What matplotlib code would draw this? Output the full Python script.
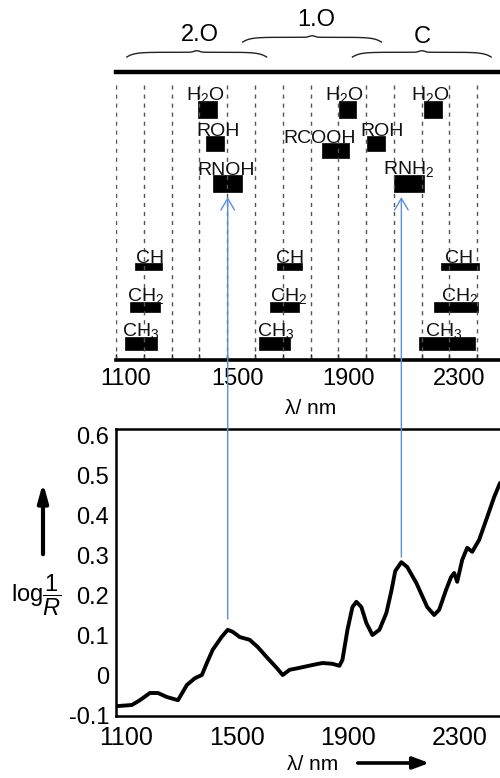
import numpy as np
import matplotlib
matplotlib.use('Agg')
import matplotlib.pyplot as plt
from matplotlib.patches import Rectangle, ConnectionPatch, FancyArrowPatch
import matplotlib.transforms as mtransforms

plt.rcParams['font.family'] = ['Liberation Sans', 'DejaVu Sans']
plt.rcParams['mathtext.fontset'] = 'custom'
plt.rcParams['mathtext.rm'] = 'Liberation Sans'
plt.rcParams['mathtext.it'] = 'Liberation Sans:italic'
plt.rcParams['mathtext.bf'] = 'Liberation Sans:bold'

############ data
# NIR spectrum
wavelength = [1100, 1157, 1186, 1222, 1251, 1283, 1323, 1355, 1384, 1409, 1427, 1448,
              1480, 1502, 1520, 1545, 1581, 1610, 1642, 1678, 1700, 1725, 1761, 1807,
              1843, 1879, 1904, 1915, 1933, 1951, 1965, 1983, 2001, 2023, 2048, 2073,
              2091, 2105, 2127, 2148, 2181, 2192, 2220, 2245, 2263, 2288, 2306, 2317,
              2328, 2346, 2364, 2382, 2407, 2436, 2461, 2482]
log_inv_r = [-0.078, -0.075, -0.063, -0.045, -0.045, -0.055, -0.063, -0.025, -0.008, 0.0,
             0.03, 0.063, 0.095, 0.113, 0.108, 0.095, 0.088, 0.07, 0.045, 0.018, 0.0,
             0.013, 0.018, 0.025, 0.03, 0.028, 0.023, 0.038, 0.113, 0.17, 0.183, 0.17,
             0.13, 0.1, 0.113, 0.155, 0.21, 0.26, 0.282, 0.27, 0.23, 0.213, 0.17, 0.15,
             0.163, 0.213, 0.245, 0.255, 0.233, 0.288, 0.318, 0.308, 0.338, 0.395,
             0.445, 0.48]

# absorption bands (nm)
band_names = ['H$_2$O', 'ROH', 'RNOH', 'H$_2$O', 'RCOOH', 'ROH', 'H$_2$O', 'RNH$_2$',
              'CH', 'CH$_2$', 'CH$_3$', 'CH', 'CH$_2$', 'CH$_3$', 'CH', 'CH$_2$', 'CH$_3$']
band_start = [1394, 1423, 1448, 1904, 1843, 2005, 2209, 2102,
              1168, 1150, 1132, 1678, 1653, 1613, 2270, 2245, 2191]
band_end = [1463, 1488, 1552, 1965, 1940, 2069, 2274, 2209,
            1265, 1258, 1247, 1771, 1757, 1728, 2407, 2403, 2392]
label_x = [1420, 1466, 1498, 1922, 1832, 2058, 2231, 2155,
           1222, 1208, 1190, 1725, 1721, 1674, 2335, 2335, 2278]
band_row = ['w', 'oh', 'n', 'w', 'cooh', 'oh', 'w', 'n',
            'ch', 'ch2', 'ch3', 'ch', 'ch2', 'ch3', 'ch', 'ch2', 'ch3']
# vertical extent of each row in the upper panel (0..100)
rows = {'w': (84, 90), 'oh': (72.5, 77.8), 'cooh': (70.1, 75.3), 'n': (58.5, 64.2),
        'ch': (31.3, 33.7), 'ch2': (16.7, 20.1), 'ch3': (3.5, 8.0)}

# overtone regions
region_names = ['2.O', '1.O', 'C']
region_start = [1139, 1556, 1951]
region_end = [1642, 2055, 2450]
region_level = [105.2, 110.4, 105.2]
region_text_x = [1402, 1822, 2202]
region_text_y = [113, 118, 112]

# assignments linked with arrows
link_x = [1502, 2127]
link_y = [0.14, 0.295]

xticks_major = [1100, 1500, 1900, 2300]
xticks_minor = np.arange(1100, 2500, 100)
yticks = [-0.1, 0, 0.1, 0.2, 0.3, 0.4, 0.5, 0.6]
ytick_labels = ['-0.1', '0', '0.1', '0.2', '0.3', '0.4', '0.5', '0.6']

W, H = 500, 778
fig = plt.figure(figsize=(W / 100, H / 100), dpi=100)
ax_top = fig.add_axes([0.232, 1 - 360 / H, 0.768, (360 - 72) / H])
ax_bot = fig.add_axes([0.232, 1 - 716 / H, 0.768, (716 - 429) / H])

xlim = (1100, 2482)

######### upper panel
ax_top.set_xlim(*xlim)
ax_top.set_ylim(0, 100)
for s in ['left', 'right']:
    ax_top.spines[s].set_visible(False)
ax_top.spines['top'].set_linewidth(3.2)
ax_top.spines['bottom'].set_linewidth(2.6)
ax_top.vlines(xticks_minor, 0, 97, colors='#555555', linestyles=(0, (3, 3.5)), lw=1.0)

for i in range(len(band_names)):
    y0, y1 = rows[band_row[i]]
    ax_top.add_patch(Rectangle((band_start[i], y0), band_end[i] - band_start[i], y1 - y0,
                               facecolor='black', edgecolor='black', lw=0.5))
    ax_top.text(label_x[i], y1 - 1.5, band_names[i], ha='center', va='bottom',
                fontsize=14, color='#111111')


def brace(ax, a, b, base, h=2.2):
    xs = np.linspace(a, b, 200)
    t = (xs - a) / (b - a)
    s = np.minimum(t, 1 - t) * 2
    ys = base + h * (0.75 * (1 - np.exp(-s * 10)) + 0.25 * np.exp(-((1 - s) * 18) ** 2))
    ax.plot(xs, ys, color='#222222', lw=1.0, clip_on=False)


for i in range(len(region_names)):
    brace(ax_top, region_start[i], region_end[i], region_level[i])
    ax_top.text(region_text_x[i], region_text_y[i], region_names[i], ha='center',
                va='center', fontsize=17, clip_on=False)

ax_top.set_yticks([])
ax_top.set_xticks(xticks_major)
ax_top.set_xticks(xticks_minor, minor=True)
ax_top.set_xticklabels([str(v) for v in xticks_major], fontsize=17)
ax_top.tick_params(axis='x', which='both', direction='in', length=4, width=1, pad=6)

######### lower panel
ax_bot.plot(wavelength, log_inv_r, color='black', lw=2.8, solid_joinstyle='round',
            solid_capstyle='round')
ax_bot.set_xlim(*xlim)
ax_bot.set_ylim(-0.1025, 0.615)
ax_bot.spines['right'].set_visible(False)
for s in ['left', 'top', 'bottom']:
    ax_bot.spines[s].set_linewidth(1.8)
ax_bot.set_xticks(xticks_major)
ax_bot.set_xticklabels([str(v) for v in xticks_major], fontsize=18)
ax_bot.set_yticks(yticks)
ax_bot.set_yticklabels(ytick_labels, fontsize=17)
ax_bot.tick_params(axis='both', length=0)
ax_bot.tick_params(axis='x', pad=7)
ax_bot.tick_params(axis='y', pad=5)

# the tick labels sit a bit right of the ticks in the original
shift = mtransforms.ScaledTranslation(10 / 100, 0, fig.dpi_scale_trans)
for ax in (ax_top, ax_bot):
    for lab in ax.get_xticklabels():
        lab.set_transform(lab.get_transform() + shift)

# blue arrows linking bands with peaks
for xv, yv in zip(link_x, link_y):
    con = ConnectionPatch(xyA=(xv, 56.6), coordsA=ax_top.transData,
                          xyB=(xv, yv), coordsB=ax_bot.transData,
                          arrowstyle='<-,head_length=0.6,head_width=0.35',
                          color='#5b8fd6', lw=1.0, mutation_scale=14)
    fig.add_artist(con)

######### axis titles
fig.text(311 / W, 1 - 408 / H, 'λ/ nm', ha='center', va='center', fontsize=15)
fig.text(313 / W, 1 - 764 / H, 'λ/ nm', ha='center', va='center', fontsize=15)
fig.add_artist(FancyArrowPatch((355 / W, 1 - 763 / H), (432 / W, 1 - 763 / H),
                               transform=fig.transFigure,
                               arrowstyle='-|>,head_length=0.8,head_width=0.3',
                               mutation_scale=12, lw=2.6, color='black'))
fig.text(11 / W, 1 - 595 / H, r'$\mathregular{log}\dfrac{1}{R}$', ha='left', va='center',
         fontsize=17)
fig.add_artist(FancyArrowPatch((43 / W, 1 - 557 / H), (43 / W, 1 - 480 / H),
                               transform=fig.transFigure,
                               arrowstyle='-|>,head_length=0.9,head_width=0.25',
                               mutation_scale=12, lw=3, color='black'))

fig.savefig('out.png', dpi=100)
